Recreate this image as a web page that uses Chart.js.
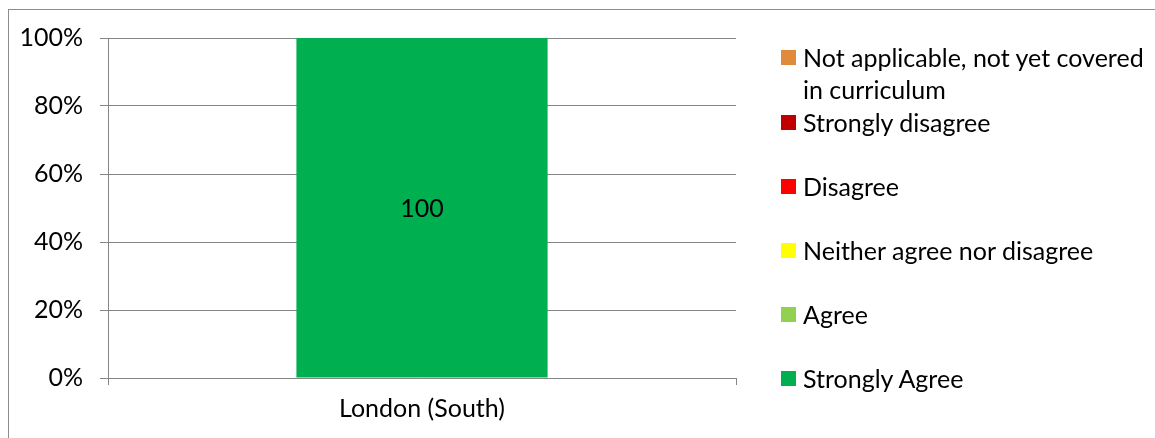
<!DOCTYPE html>
<html>
<head>
<meta charset="utf-8">
<script src="https://cdn.jsdelivr.net/npm/chart.js@4.4.1/dist/chart.umd.min.js"></script>
<style>
    body { margin: 0; background: #fff; font-family: Lato, sans-serif; }
    #wrap { position: relative; width: 1155px; height: 438px; overflow: hidden; }
    #frame { position: absolute; left: 8px; top: 9px; width: 1200px; height: 500px;
             border-left: 1px solid #8c8c8c; border-top: 1px solid #8c8c8c; }
    canvas { position: absolute; left: 0; top: 0; }
    #legend { position: absolute; left: 781px; top: 0; width: 370px; height: 438px; }
    .item { position: absolute; left: 0; display: flex; align-items: flex-start; }
    .box { width: 15px; height: 15px; margin-top: 9px; margin-right: 7px; flex: none; }
    .txt { font-size: 25px; line-height: 32px; color: #000; width: 350px; }
</style>
</head>
<body>
<div id="wrap">
    <div id="frame"></div>
    <canvas id="myChart" width="1155" height="438"></canvas>
    <div id="legend"></div>
</div>
<script>
// Data
const categories = ['London (South)'];
const seriesNames = ['Strongly Agree', 'Agree', 'Neither agree nor disagree', 'Disagree', 'Strongly disagree', 'Not applicable, not yet covered in curriculum'];
const seriesColors = ['#00b050', '#92d050', '#ffff00', '#ff0000', '#c00000', '#e08a3c'];
const stronglyAgree = [100];
const agree = [0];
const neither = [0];
const disagree = [0];
const stronglyDisagree = [0];
const notApplicable = [0];
const seriesValues = [stronglyAgree, agree, neither, disagree, stronglyDisagree, notApplicable];
const yTicks = [0, 20, 40, 60, 80, 100];

const GRID = '#868686';
const FONT = 'Lato';

// Plugin - write value in the middle of each non-empty bar segment
const barLabels = {
    id: 'barLabels',
    afterDatasetsDraw(chart) {
        const ctx = chart.ctx;
        ctx.save();
        ctx.font = `25px ${FONT}`;
        ctx.fillStyle = '#000';
        ctx.textAlign = 'center';
        ctx.textBaseline = 'middle';
        chart.data.datasets.forEach((ds, i) => {
            chart.getDatasetMeta(i).data.forEach((bar, j) => {
                if (ds.data[j] > 0) {
                    ctx.fillText(ds.data[j], bar.x, (bar.y + bar.base) / 2 + 1);
                }
            });
        });
        ctx.restore();
    }
};

new Chart(document.getElementById('myChart'), {
    type: 'bar',
    data: {
        labels: categories,
        datasets: seriesNames.map((name, i) => ({
            label: name,
            data: seriesValues[i],
            backgroundColor: seriesColors[i],
            borderWidth: 0,
            categoryPercentage: 1,
            barPercentage: 0.4
        }))
    },
    options: {
        responsive: false,
        devicePixelRatio: 1,
        animation: false,
        layout: { padding: { left: 0, top: 38, right: 419, bottom: 0 } },
        plugins: {
            legend: { display: false },
            tooltip: { enabled: false }
        },
        scales: {
            x: {
                stacked: true,
                grid: { drawOnChartArea: false, color: GRID, tickLength: 7 },
                border: { color: GRID },
                ticks: { color: '#000', font: { family: FONT, size: 25 }, padding: 9 },
                afterFit: (scale) => { scale.height = 60; }
            },
            y: {
                stacked: true,
                min: 0,
                max: 100,
                afterBuildTicks: (scale) => { scale.ticks = yTicks.map(v => ({ value: v })); },
                grid: { color: GRID, tickLength: 8 },
                border: { color: GRID },
                ticks: {
                    color: '#000',
                    font: { family: FONT, size: 25 },
                    padding: 17,
                    callback: (value) => value + '%'
                },
                afterFit: (scale) => { scale.width = 108; }
            }
        }
    },
    plugins: [barLabels]
});

// Legend - reversed like the stacking order
const legendEl = document.getElementById('legend');
seriesNames.slice().reverse().forEach((name, i) => {
    const color = seriesColors[seriesNames.length - 1 - i];
    const item = document.createElement('div');
    item.className = 'item';
    item.style.top = (i === 0 ? 41 : 106 + (i - 1) * 64) + 'px';
    item.innerHTML = `<div class="box" style="background:${color}"></div><div class="txt">${name}</div>`;
    legendEl.appendChild(item);
});
</script>
</body>
</html>
